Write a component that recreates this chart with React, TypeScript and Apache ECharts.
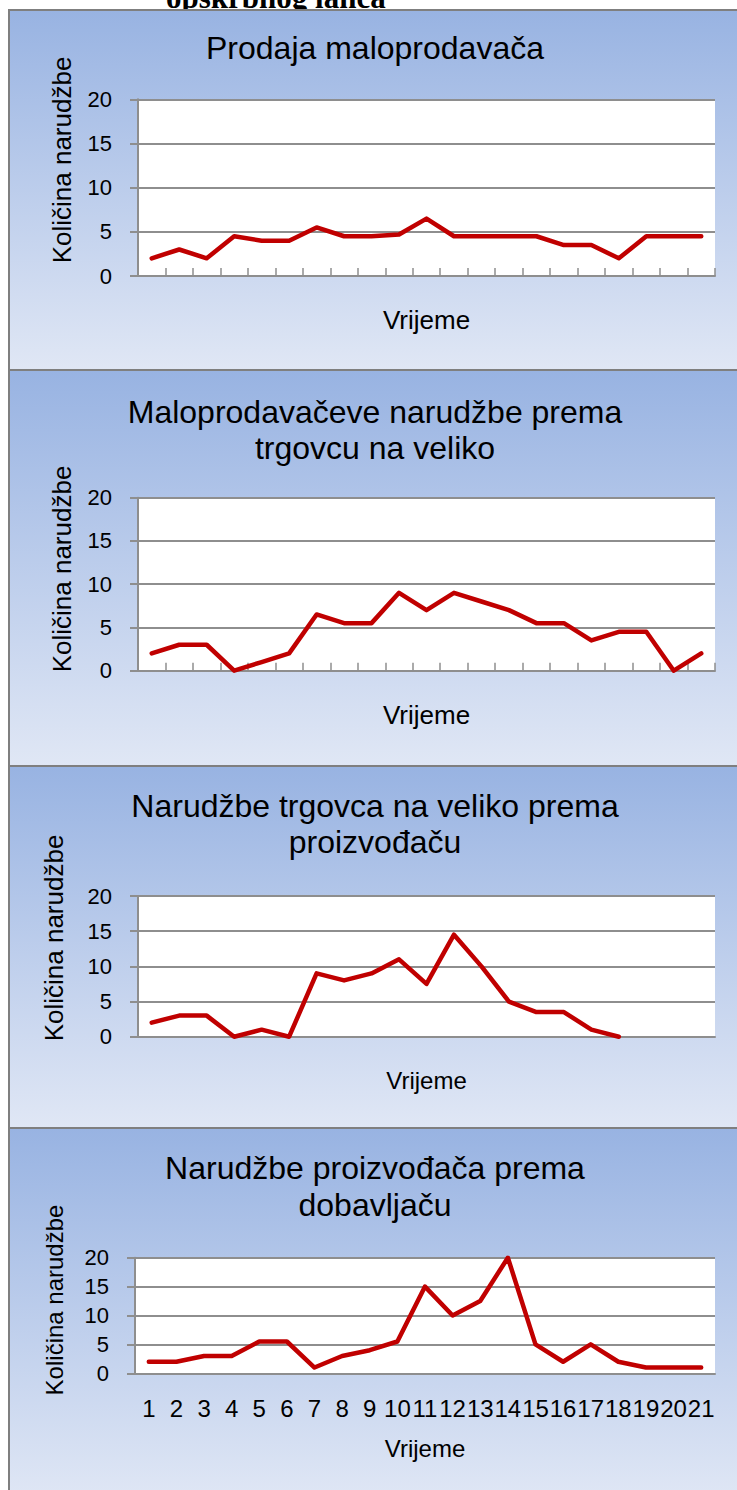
import React, { useEffect, useRef } from "react";
import * as echarts from "echarts";

// ---- data ----
const categories = ["1", "2", "3", "4", "5", "6", "7", "8", "9", "10", "11", "12", "13", "14", "15", "16", "17", "18", "19", "20", "21"];
const retailSales = [2, 3, 2, 4.5, 4, 4, 5.5, 4.5, 4.5, 4.7, 6.5, 4.5, 4.5, 4.5, 4.5, 3.5, 3.5, 2, 4.5, 4.5, 4.5];
const retailerOrders = [2, 3, 3, 0, 1, 2, 6.5, 5.5, 5.5, 9, 7, 9, 8, 7, 5.5, 5.5, 3.5, 4.5, 4.5, 0, 2];
const wholesalerOrders = [2, 3, 3, 0, 1, 0, 9, 8, 9, 11, 7.5, 14.5, 10, 5, 3.5, 3.5, 1, 0, null, null, null];
const manufacturerOrders = [2, 2, 3, 3, 5.5, 5.5, 1, 3, 4, 5.5, 15, 10, 12.5, 20, 5, 2, 5, 2, 1, 1, 1];
const yMin = 0;
const yMax = 20;
const yStep = 5;

const titleLines = [
  ["Prodaja maloprodavača"],
  ["Maloprodavačeve narudžbe prema", "trgovcu na veliko"],
  ["Narudžbe trgovca na veliko prema", "proizvođaču"],
  ["Narudžbe proizvođača prema", "dobavljaču"],
];
const xAxisName = "Vrijeme";
const yAxisName = "Količina narudžbe";
const pageHeading = "opskrbnog lanca";
const seriesData = [retailSales, retailerOrders, wholesalerOrders, manufacturerOrders];

// ---- layout ----
const panels = [
  { y0: 10, y1: 370, grid: { left: 138, top: 99.3, width: 577, height: 176.7 }, titleY: [48.2], nameX: 62, nameY: 160, nameSize: 26, xNameY: 319.5, xNameSize: 26, ticks: true, labels: false },
  { y0: 370, y1: 766, grid: { left: 138, top: 497.7, width: 577, height: 173 }, titleY: [411.5, 448], nameX: 62, nameY: 569, nameSize: 26, xNameY: 714.5, xNameSize: 26, ticks: true, labels: false },
  { y0: 766, y1: 1128, grid: { left: 138, top: 896, width: 577, height: 140.7 }, titleY: [805.6, 841.6], nameX: 54, nameY: 938, nameSize: 26, xNameY: 1080, xNameSize: 24, ticks: false, labels: false },
  { y0: 1128, y1: 1500, grid: { left: 135, top: 1257.7, width: 580, height: 115.6 }, titleY: [1168, 1204.6], nameX: 54, nameY: 1300, nameSize: 24, xNameY: 1448, xNameSize: 24, ticks: false, labels: true },
];

const SANS = "'Liberation Sans', Arial, sans-serif";
const AXIS_GREY = "#8e8e8e";

export default function App() {
  const ref = useRef<HTMLDivElement>(null);

  useEffect(() => {
    document.body.style.margin = "0";
    if (!ref.current) return;
    const chart = echarts.init(ref.current, undefined, { renderer: "svg" });

    const graphic: any[] = [];
    graphic.push({
      type: "text",
      x: 166,
      y: -2.5,
      z: -20,
      style: {
        text: pageHeading,
        font: "bold 31px 'Liberation Serif', 'Times New Roman', serif",
        fill: "#000",
        textAlign: "left",
        textVerticalAlign: "middle",
      },
    });
    panels.forEach((p, i) => {
      graphic.push({
        type: "rect",
        z: -10,
        shape: { x: 9, y: p.y0, width: 740, height: p.y1 - p.y0 },
        style: {
          fill: {
            type: "linear",
            x: 0,
            y: 0,
            x2: 0,
            y2: 1,
            colorStops: [
              { offset: 0, color: "#98b3e2" },
              { offset: 1, color: "#e0e7f5" },
            ],
          },
          stroke: "#7f7f7f",
          lineWidth: 2,
        },
      });
      titleLines[i].forEach((t, k) => {
        graphic.push({
          type: "text",
          x: 375,
          y: p.titleY[k],
          z: 10,
          style: {
            text: t,
            font: `32px ${SANS}`,
            fill: "#000",
            textAlign: "center",
            textVerticalAlign: "middle",
          },
        });
      });
      graphic.push({
        type: "text",
        x: p.nameX,
        y: p.nameY,
        rotation: Math.PI / 2,
        z: 10,
        style: {
          text: yAxisName,
          font: `${p.nameSize}px ${SANS}`,
          fill: "#000",
          textAlign: "center",
          textVerticalAlign: "middle",
        },
      });
      graphic.push({
        type: "text",
        x: p.grid.left + p.grid.width / 2,
        y: p.xNameY,
        z: 10,
        style: {
          text: xAxisName,
          font: `${p.xNameSize}px ${SANS}`,
          fill: "#000",
          textAlign: "center",
          textVerticalAlign: "middle",
        },
      });
    });

    const option: any = {
      animation: false,
      grid: panels.map((p) => ({
        ...p.grid,
        show: true,
        backgroundColor: "#ffffff",
        borderWidth: 0,
        containLabel: false,
      })),
      xAxis: panels.map((p, i) => ({
        type: "category",
        gridIndex: i,
        data: categories,
        boundaryGap: true,
        axisLine: { show: true, lineStyle: { color: AXIS_GREY, width: 2 } },
        axisTick: { show: p.ticks, inside: true, length: 8, lineStyle: { color: AXIS_GREY, width: 1.5 } },
        axisLabel: { show: p.labels, interval: 0, margin: 23, fontSize: 24, color: "#000", fontFamily: SANS },
        splitLine: { show: false },
      })),
      yAxis: panels.map((p, i) => ({
        type: "value",
        gridIndex: i,
        min: yMin,
        max: yMax,
        interval: yStep,
        axisLine: { show: true, lineStyle: { color: AXIS_GREY, width: 2 } },
        axisTick: { show: true, inside: false, length: 8, lineStyle: { color: AXIS_GREY, width: 2 } },
        axisLabel: { margin: 26, fontSize: 22, color: "#000", fontFamily: SANS },
        splitLine: { show: true, lineStyle: { color: AXIS_GREY, width: 2 } },
      })),
      series: seriesData.map((d, i) => ({
        type: "line",
        xAxisIndex: i,
        yAxisIndex: i,
        data: d,
        symbol: "none",
        showSymbol: false,
        connectNulls: false,
        lineStyle: { color: "#c00000", width: 4.5, cap: "round", join: "round" },
        z: 5,
      })),
      graphic,
    };

    chart.setOption(option);
    return () => {
      chart.dispose();
    };
  }, []);

  return <div ref={ref} style={{ width: 737, height: 1490 }} />;
}
